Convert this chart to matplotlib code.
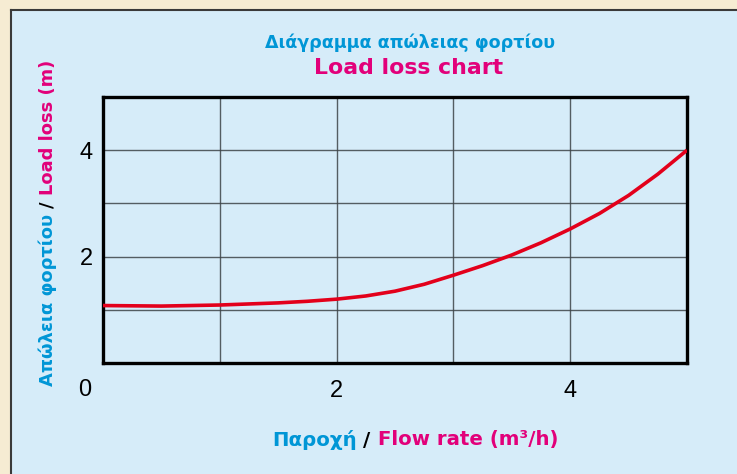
import numpy as np
import matplotlib.pyplot as plt
from matplotlib.patches import Rectangle
from matplotlib.lines import Line2D

# Load loss curve (flow rate m3/h -> loss m)
flow = [0, 0.5, 1.0, 1.5, 1.75, 2.0, 2.25, 2.5, 2.75, 3.0, 3.25, 3.5, 3.75,
        4.0, 4.25, 4.5, 4.75, 5.0]
loss = [1.08, 1.07, 1.09, 1.13, 1.16, 1.20, 1.26, 1.35, 1.48, 1.65, 1.83, 2.03, 2.26,
        2.52, 2.81, 3.15, 3.55, 4.0]

x_ticks = [2, 4]
y_ticks = [2, 4]

BLUE = '#0096d6'
MAGENTA = '#e2007a'
RED = '#e3001b'
PANEL = '#d6ecf9'
CREAM = '#f6ecd3'

W, H = 737, 474
plt.rcParams['font.family'] = ['Liberation Sans', 'DejaVu Sans']
fig = plt.figure(figsize=(W / 100, H / 100), dpi=100)
fig.patch.set_facecolor(CREAM)

# light blue panel with dark top/left edge
fig.patches.append(Rectangle((11 / W, 0), 1, (H - 10) / H, transform=fig.transFigure,
                             facecolor=PANEL, edgecolor='none', zorder=-2))
fig.lines.append(Line2D([11 / W, 1], [(H - 10) / H] * 2, transform=fig.transFigure,
                        color='#3a3a3a', lw=1.5, zorder=-1))
fig.lines.append(Line2D([11 / W] * 2, [0, (H - 10) / H], transform=fig.transFigure,
                        color='#3a3a3a', lw=1.5, zorder=-1))

ax = fig.add_axes([103 / W, 111 / H, 584 / W, 266 / H])
ax.set_facecolor(PANEL)
ax.set_xlim(0, 5)
ax.set_ylim(0, 5)
ax.set_xticks(x_ticks)
ax.set_yticks(y_ticks)
ax.set_xticks(np.arange(1, 5), minor=True)
ax.set_yticks(np.arange(1, 5), minor=True)
ax.grid(True, which='both', color='#3d4448', lw=1.0, alpha=0.85)
ax.tick_params(which='both', length=0)
ax.tick_params(axis='x', pad=12, labelsize=17)
ax.tick_params(axis='y', pad=7.5, labelsize=17)
for s in ax.spines.values():
    s.set_linewidth(2.4)
    s.set_color('black')

ax.plot(flow, loss, color=RED, lw=2.6, solid_capstyle='butt', solid_joinstyle='round',
        zorder=3)

# shared origin label
fig.text(85 / W, 1 - 390 / H, '0', fontsize=17, ha='center', va='center')

renderer = fig.canvas.get_renderer()
BOLD = dict(family='DejaVu Sans', fontweight='bold')


def text_width(s, **kw):
    t = fig.text(0, 0, s, **kw)
    w = t.get_window_extent(renderer).width
    t.remove()
    return w


def multicolor(cx, cy, parts, rotation=0, **kw):
    # parts laid out one after another, centred on (cx, cy) in pixels
    space = text_width('a a', **kw) - text_width('aa', **kw)
    widths = [text_width(s, **kw) for s, _ in parts]
    total = sum(widths) + space * (len(parts) - 1)
    pos = -total / 2
    for (s, c), w in zip(parts, widths):
        if rotation == 0:
            x, y = cx + pos, cy
        else:
            x, y = cx, cy + pos
        fig.text(x / W, y / H, s, color=c, rotation=rotation, rotation_mode='anchor',
                 ha='left', va='center', **kw)
        pos += w + space


fig.text(410 / W, 1 - 43 / H, 'Διάγραμμα απώλειας φορτίου', color=BLUE,
         fontsize=12.6, ha='center', va='center', **BOLD)
fig.text(409 / W, 1 - 68 / H, 'Load loss chart', color=MAGENTA,
         fontsize=15.8, ha='center', va='center', **BOLD)

multicolor(415, H - 440, [('Παροχή', BLUE), ('/', 'black'), ('Flow rate (m³/h)', MAGENTA)],
           fontsize=14.2, **BOLD)
multicolor(48, H - 223, [('Απώλεια φορτίου', BLUE), ('/', 'black'), ('Load loss (m)', MAGENTA)],
           rotation=90, fontsize=12.9, **BOLD)

fig.savefig('out.png', dpi=100, facecolor=fig.get_facecolor())
